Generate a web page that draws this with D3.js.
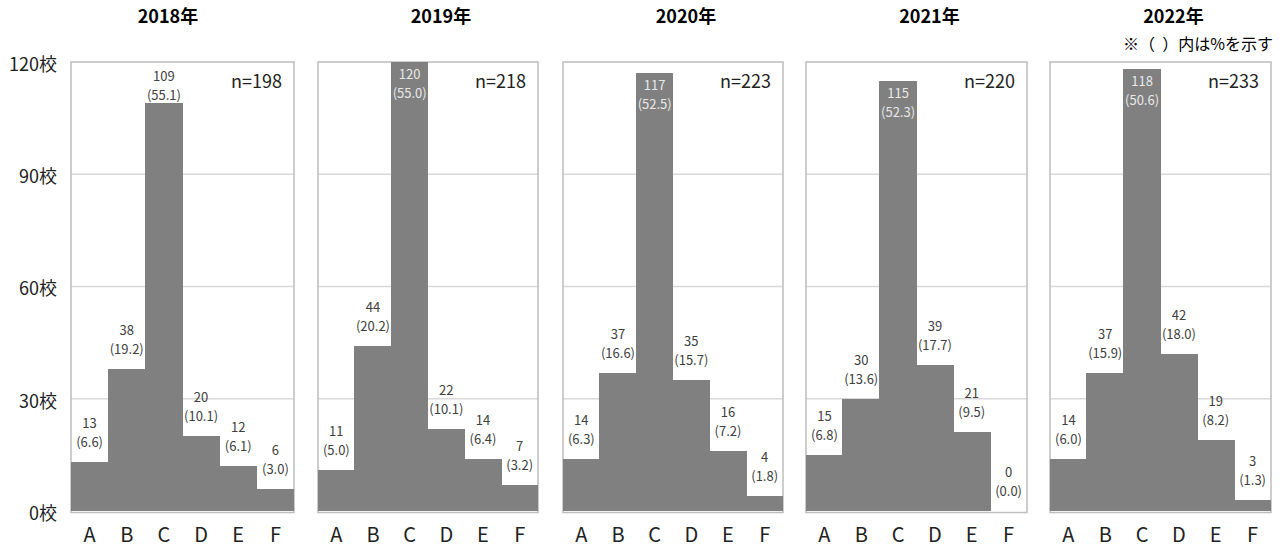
<!DOCTYPE html>
<html lang="ja">
<head>
<meta charset="utf-8">
<script src="https://cdn.jsdelivr.net/npm/d3@7"></script>
<style>
  html, body { margin: 0; padding: 0; background: #ffffff; }
  svg { display: block; font-family: "Noto Sans CJK JP", "Noto Sans", sans-serif; }
</style>
</head>
<body>
<svg id="chart" width="1282" height="548"></svg>
<script>
// ---- data ----
const years = ["2018年", "2019年", "2020年", "2021年", "2022年"];
const categories = ["A", "B", "C", "D", "E", "F"];
const totals = [198, 218, 223, 220, 233];
const counts2018 = [13, 38, 109, 20, 12, 6];
const counts2019 = [11, 44, 120, 22, 14, 7];
const counts2020 = [14, 37, 117, 35, 16, 4];
const counts2021 = [15, 30, 115, 39, 21, 0];
const counts2022 = [14, 37, 118, 42, 19, 3];
const pct2018 = [6.6, 19.2, 55.1, 10.1, 6.1, 3.0];
const pct2019 = [5.0, 20.2, 55.0, 10.1, 6.4, 3.2];
const pct2020 = [6.3, 16.6, 52.5, 15.7, 7.2, 1.8];
const pct2021 = [6.8, 13.6, 52.3, 17.7, 9.5, 0.0];
const pct2022 = [6.0, 15.9, 50.6, 18.0, 8.2, 1.3];
const yTicks = [0, 30, 60, 90, 120];
const yUnit = "校";
const note = "※（  ）内は%を示す";

const countSeries = [counts2018, counts2019, counts2020, counts2021, counts2022];
const pctSeries = [pct2018, pct2019, pct2020, pct2021, pct2022];

// ---- layout ----
const svg = d3.select("#chart");
const plotTop = 62, plotBottom = 511;
const panelX = [71, 318, 563, 806, 1050];
const panelW = [223, 220, 220, 221, 221];
// each small chart's outer frame (title is centred over it)
const frameLeft = [10, 312, 557, 800, 1044];
const frameExtraRight = 32;

const y = d3.scaleLinear().domain([0, 120]).range([plotBottom, plotTop]);

const labelColor = "#404040";
const lineGap = 19;

years.forEach((yr, i) => {
  const x0 = panelX[i], w = panelW[i];
  const x = d3.scaleBand().domain(categories).range([x0, x0 + w]).padding(0);
  const g = svg.append("g");

  // title
  const fl = frameLeft[i], fr = x0 + w + frameExtraRight;
  g.append("text")
    .attr("x", (fl + fr) / 2).attr("y", 23)
    .attr("text-anchor", "middle")
    .attr("font-size", 18).attr("font-weight", "bold").attr("fill", "#000")
    .text(yr);

  // gridlines
  g.selectAll("line.grid")
    .data(yTicks.filter(t => t > 0 && t < 120))
    .join("line")
    .attr("x1", x0).attr("x2", x0 + w)
    .attr("y1", d => y(d)).attr("y2", d => y(d))
    .attr("stroke", "#d9d9d9").attr("stroke-width", 1.3);

  // panel border
  g.append("rect")
    .attr("x", x0).attr("y", plotTop)
    .attr("width", w).attr("height", plotBottom - plotTop + 1.5)
    .attr("fill", "none").attr("stroke", "#bdbdbd").attr("stroke-width", 1.5);

  const rows = categories.map((c, k) => ({ c, v: countSeries[i][k], p: pctSeries[i][k] }));

  // bars (touching, no gaps between categories)
  g.selectAll("rect.bar").data(rows).join("rect")
    .attr("x", d => Math.floor(x(d.c)))
    .attr("width", d => Math.ceil(x(d.c) + x.bandwidth()) - Math.floor(x(d.c)))
    .attr("y", d => y(d.v)).attr("height", d => y(0) - y(d.v))
    .attr("fill", "#808080")
    .attr("shape-rendering", "crispEdges");

  // value labels: count and (percent)
  rows.forEach(d => {
    const top = y(d.v);
    const inside = top - plotTop < 30;
    let base2;
    if (inside) {
      base2 = top + 17 + lineGap;
    } else {
      base2 = top - 15;
      const minBase1 = plotTop + 19;
      if (base2 - lineGap < minBase1) base2 = minBase1 + lineGap;
    }
    const cx = x(d.c) + x.bandwidth() / 2;
    const fill = inside ? "#e8e8e8" : labelColor;
    g.append("text")
      .attr("x", cx).attr("y", base2 - lineGap)
      .attr("text-anchor", "middle").attr("font-size", 13).attr("fill", fill)
      .text(d.v);
    g.append("text")
      .attr("x", cx).attr("y", base2)
      .attr("text-anchor", "middle").attr("font-size", 13).attr("fill", fill)
      .text("(" + d.p.toFixed(1) + ")");
  });

  // n label
  g.append("text")
    .attr("x", x0 + w - 12).attr("y", 88)
    .attr("text-anchor", "end").attr("font-size", 18).attr("fill", "#222")
    .text("n=" + totals[i]);

  // x axis labels
  const xAxis = d3.axisBottom(x).tickSize(0).tickPadding(0);
  const ax = g.append("g").attr("transform", `translate(0,${plotBottom})`).call(xAxis);
  ax.select(".domain").remove();
  ax.selectAll("text")
    .attr("y", 31).attr("dy", 0)
    .attr("font-size", 20).attr("fill", "#222")
    .attr("font-family", "\"Noto Sans CJK JP\", sans-serif");

  // y axis labels on the first panel only
  if (i === 0) {
    const yAxis = d3.axisLeft(y).tickValues(yTicks).tickSize(0).tickPadding(0)
      .tickFormat(t => t + yUnit);
    const ay = g.append("g").attr("transform", `translate(57,0)`).call(yAxis);
    ay.select(".domain").remove();
    ay.selectAll("text")
      .attr("dy", "0.35em").attr("y", 2)
      .attr("font-size", 18).attr("fill", "#222")
      .attr("font-family", "\"Noto Sans CJK JP\", sans-serif");
  }
});

// note on the right
svg.append("text")
  .attr("x", 1273).attr("y", 50)
  .attr("text-anchor", "end").attr("font-size", 16).attr("fill", "#000")
  .attr("xml:space", "preserve").style("white-space", "pre")
  .text(note);
</script>
</body>
</html>
